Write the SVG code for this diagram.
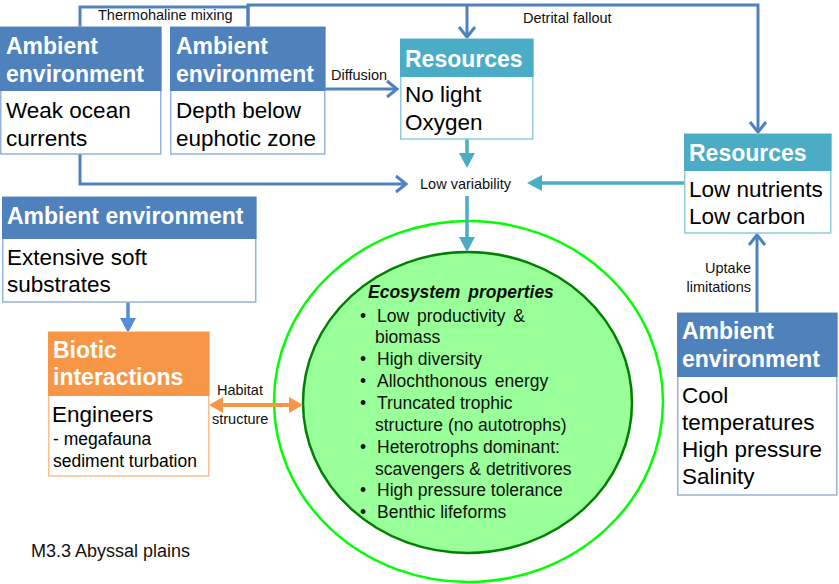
<svg xmlns="http://www.w3.org/2000/svg" width="839" height="584" viewBox="0 0 839 584">
<style>
.hdr{font-family:"Liberation Sans",Arial,sans-serif;font-size:23px;font-weight:bold;fill:#fff}
.body{font-family:"Liberation Sans",Arial,sans-serif;font-size:22.5px;fill:#000}
.small{font-family:"Liberation Sans",Arial,sans-serif;font-size:17.5px;fill:#000}
.lbl{font-family:"Liberation Sans",Arial,sans-serif;font-size:14.5px;fill:#111}
.eco{font-family:"Liberation Sans",Arial,sans-serif;font-size:17.5px;fill:#111}
.ecot{font-family:"Liberation Sans",Arial,sans-serif;font-size:17.5px;font-weight:bold;font-style:italic;fill:#111}
.env-h{fill:#4F81BD}
.env-b{fill:#fff;stroke:#95B3D7;stroke-width:1.5}
.res-h{fill:#4BACC6}
.res-b{fill:#fff;stroke:#92CDDC;stroke-width:1.5}
.bio-h{fill:#F79646}
.bio-b{fill:#fff;stroke:#FAC090;stroke-width:1.5}
.cb{fill:none;stroke:#4F81BD;stroke-width:3}
.ct{fill:none;stroke:#4BACC6;stroke-width:3.5}
.co{fill:none;stroke:#F79646;stroke-width:4}
</style>
<defs>
<marker id="chev" markerUnits="userSpaceOnUse" markerWidth="14" markerHeight="20" refX="11" refY="9" orient="auto" overflow="visible">
<path d="M1,1 L11,9 L1,17" fill="none" stroke="#4F81BD" stroke-width="3"/>
</marker>
<marker id="tri-t" markerUnits="userSpaceOnUse" markerWidth="15" markerHeight="16" refX="0" refY="8" orient="auto" overflow="visible">
<path d="M0,0 L15,8 L0,16 Z" fill="#4BACC6"/>
</marker>
<marker id="tri-b" markerUnits="userSpaceOnUse" markerWidth="15" markerHeight="16" refX="0" refY="8" orient="auto" overflow="visible">
<path d="M0,0 L15,8 L0,16 Z" fill="#558ED5"/>
</marker>
<marker id="tri-o" markerUnits="userSpaceOnUse" markerWidth="14" markerHeight="16" refX="0" refY="8" orient="auto-start-reverse" overflow="visible">
<path d="M0,0 L14,8 L0,16 Z" fill="#F79646"/>
</marker>
</defs>

<g id="ecosystem">
<ellipse cx="468.5" cy="401.5" rx="194.5" ry="180.5" fill="none" stroke="#00FF00" stroke-width="2.5"/>
<ellipse cx="467.5" cy="402.5" rx="164.5" ry="150.5" fill="#99FF99" stroke="#008000" stroke-width="2.5"/>
<text class="ecot" x="368" y="298" word-spacing="3">Ecosystem properties</text>
<g class="eco">
<text x="360" y="322">•</text><text x="377" y="322" word-spacing="3">Low productivity &amp;</text>
<text x="375" y="343">biomass</text>
<text x="360" y="365">•</text><text x="377" y="365">High diversity</text>
<text x="360" y="387">•</text><text x="377" y="387" word-spacing="3">Allochthonous energy</text>
<text x="360" y="409">•</text><text x="377" y="409">Truncated trophic</text>
<text x="375" y="431">structure (no autotrophs)</text>
<text x="360" y="453">•</text><text x="377" y="453">Heterotrophs dominant:</text>
<text x="375" y="475">scavengers &amp; detritivores</text>
<text x="360" y="496">•</text><text x="377" y="496">High pressure tolerance</text>
<text x="360" y="518">•</text><text x="377" y="518">Benthic lifeforms</text>
</g>
</g>

<g id="connectors">
<polyline class="cb" points="80,27 80,7 248,7 248,27"/>
<polyline class="cb" points="248,27 248,5 758,5 758,132" marker-end="url(#chev)"/>
<polyline class="cb" points="467,5 467,37" marker-end="url(#chev)"/>
<polyline class="cb" points="325,89 397,89" marker-end="url(#chev)"/>
<polyline class="cb" points="80,154 80,184 406,184" marker-end="url(#chev)"/>
<polyline class="cb" points="757,313 757,235" marker-end="url(#chev)"/>
<polyline class="ct" points="684,183 542,183" marker-end="url(#tri-t)"/>
<polyline class="ct" points="467,139 467,153" marker-end="url(#tri-t)"/>
<polyline class="ct" points="467,196 467,237" marker-end="url(#tri-t)"/>
<polyline fill="none" stroke="#558ED5" stroke-width="3.5" points="128,302 128,318" marker-end="url(#tri-b)"/>
<polyline class="co" points="223,405 289,405" marker-start="url(#tri-o)" marker-end="url(#tri-o)"/>
<text class="lbl" x="98" y="20">Thermohaline mixing</text>
<text class="lbl" x="523" y="23">Detrital fallout</text>
<text class="lbl" x="331" y="80">Diffusion</text>
<text class="lbl" x="420" y="189">Low variability</text>
<text class="lbl" x="217" y="395">Habitat</text>
<text class="lbl" x="212" y="424">structure</text>
<text class="lbl" x="751" y="273" text-anchor="end">Uptake</text>
<text class="lbl" x="751" y="292" text-anchor="end">limitations</text>
</g>

<g id="env-currents">
<rect class="env-b" x="0.75" y="27" width="160" height="127"/>
<rect class="env-h" x="0" y="27" width="161.5" height="64"/>
<text class="hdr" x="6" y="54">Ambient</text>
<text class="hdr" x="6" y="82">environment</text>
<text class="body" x="6" y="118">Weak ocean</text>
<text class="body" x="6" y="146">currents</text>
</g>

<g id="env-depth">
<rect class="env-b" x="170.75" y="27" width="154" height="127"/>
<rect class="env-h" x="170" y="27" width="155.5" height="64"/>
<text class="hdr" x="176" y="54">Ambient</text>
<text class="hdr" x="176" y="82">environment</text>
<text class="body" x="176" y="118">Depth below</text>
<text class="body" x="176" y="146">euphotic zone</text>
</g>

<g id="res-light">
<rect class="res-b" x="400.75" y="39" width="132" height="100"/>
<rect class="res-h" x="400" y="39" width="133.5" height="38"/>
<text class="hdr" x="405" y="67">Resources</text>
<text class="body" x="405" y="102">No light</text>
<text class="body" x="405" y="130">Oxygen</text>
</g>

<g id="res-nutrients">
<rect class="res-b" x="684.75" y="134" width="146" height="99"/>
<rect class="res-h" x="684" y="134" width="147.5" height="37"/>
<text class="hdr" x="689" y="161">Resources</text>
<text class="body" x="689" y="197">Low nutrients</text>
<text class="body" x="689" y="224">Low carbon</text>
</g>

<g id="env-substrates">
<rect class="env-b" x="2.75" y="197" width="253" height="105"/>
<rect class="env-h" x="2" y="197" width="254.5" height="42"/>
<text class="hdr" x="7" y="224">Ambient environment</text>
<text class="body" x="7" y="265">Extensive soft</text>
<text class="body" x="7" y="292">substrates</text>
</g>

<g id="biotic">
<rect class="bio-b" x="48.75" y="332" width="160" height="144"/>
<rect class="bio-h" x="48" y="332" width="161.5" height="64"/>
<text class="hdr" x="53" y="358">Biotic</text>
<text class="hdr" x="53" y="385">interactions</text>
<text class="body" x="52" y="422">Engineers</text>
<text class="small" x="53" y="445">- megafauna</text>
<text class="small" x="53" y="467">sediment turbation</text>
</g>

<g id="env-physical">
<rect class="env-b" x="677.75" y="313" width="159" height="182"/>
<rect class="env-h" x="677" y="313" width="160.5" height="64"/>
<text class="hdr" x="682" y="339">Ambient</text>
<text class="hdr" x="682" y="367">environment</text>
<text class="body" x="682" y="403">Cool</text>
<text class="body" x="682" y="430">temperatures</text>
<text class="body" x="682" y="457">High pressure</text>
<text class="body" x="682" y="484">Salinity</text>
</g>

<text x="31" y="557" font-family="Liberation Sans, Arial, sans-serif" font-size="18" fill="#111">M3.3 Abyssal plains</text>
</svg>
